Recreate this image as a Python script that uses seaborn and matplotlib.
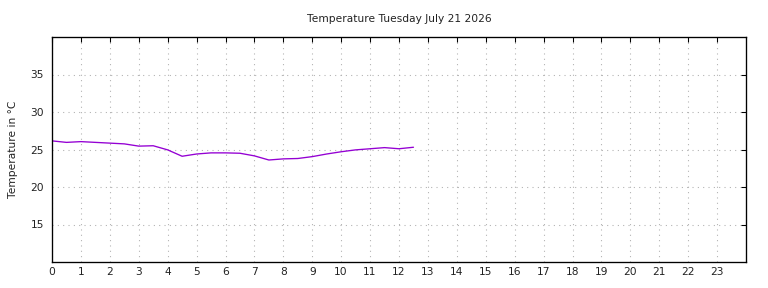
import matplotlib
matplotlib.use("Agg")
import matplotlib.pyplot as plt
import seaborn as sns
import pandas as pd

hours = [0, 0.5, 1, 1.5, 2, 2.5, 3, 3.5, 4, 4.5, 5, 5.5, 6, 6.5, 7, 7.5, 8,
         8.5, 9, 9.5, 10, 10.5, 11, 11.5, 12, 12.5]
temps = [26.15, 25.95, 26.05, 25.95, 25.85, 25.75, 25.45, 25.5, 24.95, 24.1,
         24.4, 24.55, 24.55, 24.5, 24.15, 23.6, 23.75, 23.8, 24.05, 24.4,
         24.7, 24.95, 25.1, 25.25, 25.1, 25.3]
x_ticks = list(range(0, 24))
y_ticks = [15, 20, 25, 30, 35]
title = "Temperature Tuesday July 21 2026"
ylabel = "Temperature in °C"

df = pd.DataFrame({"hour": hours, "temp": temps})

sns.set_style("white")
plt.rcParams["font.family"] = ["DejaVu Sans"]

fig = plt.figure(figsize=(8, 3), dpi=96)
ax = fig.add_axes([52 / 768, 1 - 262 / 288, (746 - 52) / 768, (262 - 37) / 288])

sns.lineplot(data=df, x="hour", y="temp", ax=ax, color="#9400d3", linewidth=1.0)

ax.set_xlim(0, 24)
ax.set_ylim(10, 40)
ax.set_xticks(x_ticks)
ax.set_yticks(y_ticks)
ax.set_xlabel("")
ax.set_ylabel(ylabel, fontsize=8, labelpad=9, color="#222222")
ax.set_title(title, fontsize=8, pad=11, color="#222222")

ax.grid(True, color="#b0b0b0", linestyle=(0, (1, 4)), linewidth=0.8)
ax.tick_params(axis="both", direction="in", length=4, width=0.8, colors="black",
               labelcolor="#222222", labelsize=8, top=True, right=True)
ax.tick_params(axis="x", pad=4)
ax.tick_params(axis="y", pad=6)
for s in ax.spines.values():
    s.set_visible(True)
    s.set_color("black")
    s.set_linewidth(1.0)

fig.savefig("out.png", dpi=96)
